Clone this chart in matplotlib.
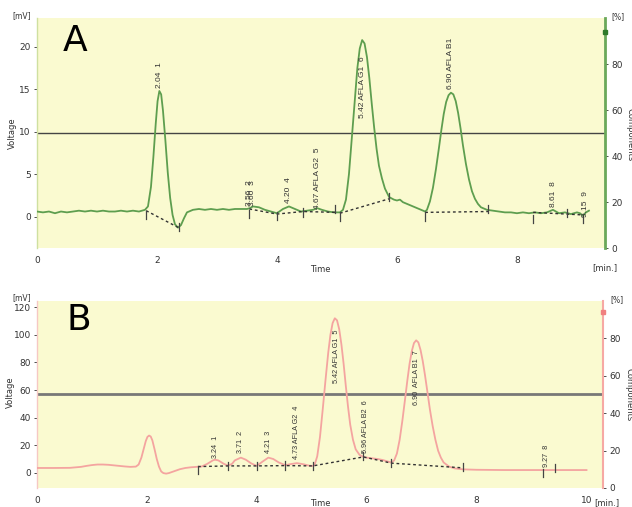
import matplotlib
matplotlib.use("Agg")
import matplotlib.pyplot as plt

plt.rcParams['font.family'] = ['DejaVu Sans']

# ---------------- Data: chromatogram A ----------------
time_a = [0.0, 0.1, 0.2, 0.3, 0.4, 0.5, 0.6, 0.7, 0.8, 0.9, 1.0, 1.1, 1.2, 1.3, 1.4, 1.5, 1.6, 1.7, 1.8,
          1.85, 1.9, 1.94, 1.98, 2.01, 2.04, 2.07, 2.1, 2.14, 2.18, 2.22, 2.26, 2.3, 2.35, 2.4, 2.45,
          2.5, 2.6, 2.7, 2.8, 2.9, 3.0, 3.1, 3.2, 3.3, 3.4, 3.5, 3.55, 3.6, 3.7, 3.8, 3.9, 4.0, 4.1,
          4.2, 4.3, 4.4, 4.5, 4.6, 4.67, 4.75, 4.85, 4.95, 5.05, 5.1, 5.15, 5.2, 5.25, 5.3, 5.34, 5.38,
          5.42, 5.46, 5.5, 5.54, 5.58, 5.62, 5.66, 5.7, 5.75, 5.8, 5.87, 5.95, 6.0, 6.05, 6.1, 6.2, 6.3,
          6.4, 6.47, 6.5, 6.55, 6.6, 6.65, 6.7, 6.74, 6.78, 6.82, 6.86, 6.9, 6.94, 6.98, 7.02, 7.06,
          7.1, 7.15, 7.2, 7.25, 7.3, 7.35, 7.4, 7.5, 7.6, 7.7, 7.8, 7.9, 8.0, 8.1, 8.2, 8.3, 8.4, 8.5,
          8.6, 8.65, 8.7, 8.8, 8.9, 9.0, 9.05, 9.1, 9.15, 9.2]
volt_a = [0.6, 0.5, 0.6, 0.4, 0.6, 0.5, 0.6, 0.7, 0.6, 0.7, 0.6, 0.7, 0.6, 0.6, 0.7, 0.6, 0.7, 0.6, 0.8,
          1.2, 3.5, 7.0, 11.0, 13.6, 14.8, 14.4, 12.5, 9.0, 5.2, 2.2, 0.2, -0.9, -1.3, -1.0, -0.2,
          0.5, 0.8, 0.9, 0.8, 0.9, 0.8, 0.9, 0.8, 0.9, 0.9, 0.9, 1.0, 1.2, 1.1, 0.8, 0.6, 0.4, 0.9,
          1.2, 0.9, 0.6, 0.7, 0.8, 1.0, 0.8, 0.6, 0.5, 0.5, 0.8, 2.0, 5.0, 9.5, 14.0, 17.5, 19.8,
          20.8, 20.4, 18.8, 16.3, 13.3, 10.5, 8.0, 6.0, 4.5, 3.3, 2.3, 2.0, 1.9, 2.0, 1.7, 1.4, 1.1,
          0.8, 0.6, 0.8, 1.8, 3.4, 5.6, 8.1, 10.2, 12.1, 13.5, 14.3, 14.6, 14.4, 13.6, 12.2, 10.4,
          8.4, 6.2, 4.4, 3.0, 2.1, 1.5, 1.1, 0.8, 0.7, 0.6, 0.5, 0.5, 0.4, 0.5, 0.4, 0.5, 0.4, 0.5,
          0.8, 0.6, 0.4, 0.5, 0.3, 0.5, 0.4, 0.1, 0.5, 0.7]

labels_a = ["2.04  1", "3.56  2", "3.60  3", "4.20  4", "4.67 AFLA G2  5", "5.42 AFLA G1  6",
            "6.90 AFLA B1", "8.61  8", "9.15  9"]
label_t_a = [2.04, 3.55, 3.60, 4.20, 4.67, 5.42, 6.90, 8.61, 9.15]
label_v_a = [15.2, 1.2, 1.2, 1.6, 0.9, 11.6, 15.0, 1.1, 0.0]

base_t_a = [[1.82, 2.36], [3.54, 4.0, 4.43, 5.0], [5.05, 5.87], [6.47, 7.52], [8.27, 9.1]]
base_v_a = [[0.7, -1.3], [0.9, 0.3, 0.6, 0.5], [0.4, 2.1], [0.5, 0.6], [0.5, 0.2]]
mark_t_a = [1.82, 2.36, 3.54, 4.0, 4.43, 4.97, 5.05, 5.87, 6.47, 7.52, 8.27, 8.83, 9.1]
mark_v_a = [0.2, -1.2, 0.3, 0.1, 0.5, 0.9, 0.0, 2.3, 0.0, 0.9, -0.3, 0.4, -0.3]

# ---------------- Data: chromatogram B ----------------
time_b = [0.0, 0.3, 0.6, 0.8, 0.9, 1.0, 1.1, 1.2, 1.3, 1.4, 1.5, 1.6, 1.7, 1.8, 1.85, 1.9, 1.94, 1.98,
          2.01, 2.04, 2.07, 2.1, 2.14, 2.18, 2.22, 2.26, 2.3, 2.35, 2.4, 2.5, 2.6, 2.7, 2.8, 2.9, 3.0,
          3.1, 3.2, 3.24, 3.3, 3.4, 3.48, 3.55, 3.6, 3.71, 3.8, 3.9, 4.0, 4.1, 4.21, 4.3, 4.4, 4.52,
          4.6, 4.73, 4.85, 4.95, 5.02, 5.05, 5.1, 5.15, 5.2, 5.25, 5.3, 5.34, 5.38, 5.42, 5.46, 5.5,
          5.54, 5.58, 5.62, 5.66, 5.7, 5.75, 5.8, 5.87, 5.94, 6.0, 6.1, 6.2, 6.3, 6.4, 6.45, 6.5, 6.55,
          6.6, 6.65, 6.7, 6.74, 6.78, 6.82, 6.86, 6.9, 6.94, 6.98, 7.02, 7.06, 7.1, 7.15, 7.2, 7.25,
          7.3, 7.35, 7.4, 7.5, 7.6, 7.75, 8.0, 8.5, 9.0, 9.27, 9.5, 10.0]
volt_b = [3.5, 3.5, 3.6, 4.3, 5.0, 5.6, 6.0, 6.0, 5.8, 5.4, 5.0, 4.6, 4.3, 4.5, 6.0, 11.0, 17.0, 23.0,
          26.0, 27.0, 26.3, 23.5, 17.0, 10.0, 4.5, 1.0, -0.2, -0.6, -0.2, 1.2, 2.6, 3.5, 4.0, 4.3, 4.6,
          6.5, 9.0, 9.5, 9.0, 6.5, 5.2, 6.5, 9.0, 11.0, 9.5, 6.8, 5.0, 8.0, 11.0, 10.0, 7.5, 5.5,
          6.2, 7.0, 6.2, 5.2, 5.0, 5.5, 12.0, 26.0, 46.0, 67.0, 87.0, 100.0, 108.5, 112.0, 110.5, 104.0,
          93.0, 79.0, 63.0, 48.0, 35.0, 24.0, 17.0, 13.0, 11.5, 11.0, 10.5, 10.0, 9.2, 8.0, 7.5, 9.0, 14.0,
          24.0, 38.0, 54.0, 67.0, 79.0, 88.0, 94.0, 96.0, 94.5, 89.0, 81.0, 71.0, 60.0, 46.0, 34.0, 24.0,
          16.0, 11.0, 7.5, 4.5, 3.2, 2.5, 2.2, 2.0, 2.0, 2.0, 2.0, 2.0]

labels_b = ["3.24  1", "3.71  2", "4.21  3", "4.73 AFLA G2  4", "5.42 AFLA G1  5",
            "5.96 AFLA B2  6", "6.90  AFLA B1  7", "9.27  8"]
label_t_b = [3.24, 3.71, 4.21, 4.73, 5.45, 5.98, 6.90, 9.27]
label_v_b = [11.0, 14.5, 14.5, 10.0, 65.0, 14.0, 49.0, 4.0]

base_t_b = [[2.93, 3.48, 4.0, 4.52, 5.02, 5.94, 6.45, 7.75]]
base_v_b = [[4.5, 5.0, 5.0, 5.2, 5.0, 11.5, 7.0, 3.6]]
mark_t_b = [2.93, 3.48, 4.0, 4.52, 5.02, 5.94, 6.45, 7.75, 9.2, 9.42]
mark_v_b = [2.0, 5.0, 5.0, 5.2, 5.0, 12.0, 7.0, 4.0, 0.0, 3.5]

# cursor marks on the right (percentage) axes
cursor_a = 94
cursor_b = 94

# ---------------- Styling helpers ----------------
FILL = '#fafad0'
TXT = '#333333'


def draw_panel(ax, t, v, color, lspine, rspine, rspine_w, xlim, ylim, yticks, xticks,
               hcolor, hw, labels, lt, lv, bt, bv, mt, mv, mark_len, letter, lab_fs, letter_x,
               cursor, cursor_color):
    ax.set_facecolor(FILL)
    ax.plot(t, v, color=color, lw=1.3, zorder=3)
    for bx, by in zip(bt, bv):
        ax.plot(bx, by, color='#333333', lw=1.0, ls=(0, (2, 2)), zorder=4)
    for x, y in zip(mt, mv):
        ax.plot([x, x], [y - mark_len, y + mark_len], color='#444444', lw=0.9, zorder=4)
    for s, x, y in zip(labels, lt, lv):
        ax.text(x, y, s, rotation=90, ha='center', va='bottom', fontsize=lab_fs,
                family='Liberation Sans', color=TXT, zorder=5)
    ax.set_xlim(*xlim)
    ax.set_ylim(*ylim)
    ax.set_yticks(yticks)
    ax.set_xticks(xticks)
    ax.tick_params(axis='both', labelsize=6.5, colors=TXT, length=2.5, width=0.6, pad=2)
    ax.tick_params(axis='x', length=0, pad=6)
    for sp in ('top', 'bottom', 'right'):
        ax.spines[sp].set_visible(False)
    ax.spines['left'].set_color(lspine)
    ax.spines['left'].set_linewidth(1.0)
    ax.text(letter_x, 0.90, letter, transform=ax.transAxes, fontsize=26, ha='left', va='center',
            color='black')

    ax2 = ax.twinx()
    ax2.set_ylim(0, 100)
    ax2.set_yticks([0, 20, 40, 60, 80])
    ax2.tick_params(axis='y', labelsize=6.5, colors=TXT, length=2.5, width=0.6, pad=2)
    for sp in ('top', 'bottom', 'left'):
        ax2.spines[sp].set_visible(False)
    ax2.spines['right'].set_color(rspine)
    ax2.spines['right'].set_linewidth(rspine_w)
    ax2.axhline(50, color=hcolor, lw=hw, zorder=2)
    ax2.plot([1.0], [cursor], transform=ax2.get_yaxis_transform(), marker='s', ms=2.5,
             color=cursor_color, clip_on=False, zorder=6)
    ax2.set_zorder(ax.get_zorder() - 1)
    ax.patch.set_visible(False)
    ax2.patch.set_visible(True)
    ax2.patch.set_facecolor(FILL)
    return ax2


fig = plt.figure(figsize=(6.32, 5.07), dpi=100)

axA = fig.add_axes([0.0585, 0.5108, 0.899, 0.4537])
draw_panel(axA, time_a, volt_a, '#5e9e4f', '#cfe0a0', '#6aa85a', 2.0,
           (0, 9.47), (-3.7, 23.4), [0, 5, 10, 15, 20], [0, 2, 4, 6, 8],
           '#444444', 1.0, labels_a, label_t_a, label_v_a, base_t_a, base_v_a,
           mark_t_a, mark_v_a, 0.5, 'A', 6, 0.045, cursor_a, '#2f7a2a')

axB = fig.add_axes([0.0585, 0.0375, 0.8956, 0.3688])
draw_panel(axB, time_b, volt_b, '#f4a4a0', '#f6c8c4', '#f6a9a4', 1.5,
           (0, 10.3), (-11, 124.5), [0, 20, 40, 60, 80, 100, 120], [0, 2, 4, 6, 8, 10],
           '#777777', 2.0, labels_b, label_t_b, label_v_b, base_t_b, base_v_b,
           mark_t_b, mark_v_b, 3.0, 'B', 5.2, 0.052, cursor_b, '#f08080')

# Axis annotations (figure pixel coordinates converted to fractions)
W, H = 632.0, 507.0


def ftext(x, y, s, **kw):
    fig.text(x / W, 1 - y / H, s, color=TXT, **kw)


ftext(22, 16, '[mV]', fontsize=5.5, ha='center', va='center')
ftext(22, 298, '[mV]', fontsize=5.5, ha='center', va='center')
ftext(12, 133, 'Voltage', fontsize=6, rotation=90, ha='center', va='center')
ftext(10, 392, 'Voltage', fontsize=6, rotation=90, ha='center', va='center')
ftext(320, 270, 'Time', fontsize=6, ha='center', va='center')
ftext(320, 504, 'Time', fontsize=6, ha='center', va='center')
ftext(605, 268, '[min.]', fontsize=6, ha='center', va='center')
ftext(607, 503, '[min.]', fontsize=6, ha='center', va='center')
ftext(618, 17, '[%]', fontsize=5.5, ha='center', va='center')
ftext(617, 300, '[%]', fontsize=5.5, ha='center', va='center')
ftext(630, 135, 'Components', fontsize=6, rotation=270, ha='center', va='center')
ftext(629, 395, 'Components', fontsize=6, rotation=270, ha='center', va='center')

fig.savefig('out.png', dpi=100)
